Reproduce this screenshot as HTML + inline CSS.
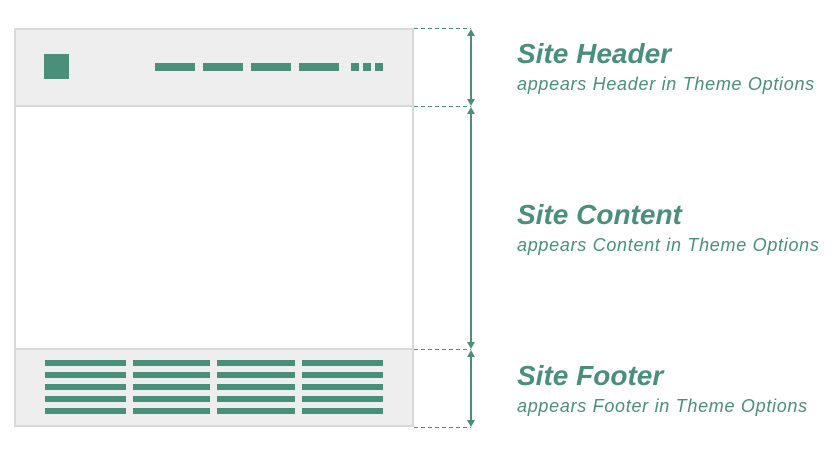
<!DOCTYPE html>
<html><head><meta charset="utf-8"><style>
html,body{margin:0;padding:0;background:#fff;width:840px;height:457px;overflow:hidden;position:relative}
.t{position:absolute;left:517px;color:#4a8f7a;font-family:"Liberation Sans",sans-serif;font-style:italic;white-space:nowrap}
.h{font-size:28px;font-weight:bold}
.s{font-size:18px;letter-spacing:0.7px}
</style></head><body>
<svg width="840" height="457" style="position:absolute;left:0;top:0">
<rect x="15" y="29" width="398" height="397" fill="#fff" stroke="#d9d9d9" stroke-width="2"/>
<rect x="15" y="29" width="398" height="77" fill="#eeeeee" stroke="#d9d9d9" stroke-width="2"/>
<rect x="15" y="349" width="398" height="77" fill="#eeeeee" stroke="#d9d9d9" stroke-width="2"/>
<g fill="#4a8f7a">
<rect x="44" y="54" width="25" height="25"/>
<rect x="155" y="63" width="40" height="8"/>
<rect x="203" y="63" width="40" height="8"/>
<rect x="251" y="63" width="40" height="8"/>
<rect x="299" y="63" width="40" height="8"/>
<rect x="351" y="63" width="8" height="8"/>
<rect x="363" y="63" width="8" height="8"/>
<rect x="375" y="63" width="8" height="8"/>
</g>
<g fill="#4a8f7a">
<g id="r"><rect x="45" y="360" width="81" height="6"/><rect x="133" y="360" width="77" height="6"/><rect x="217" y="360" width="78" height="6"/><rect x="302" y="360" width="81" height="6"/></g>
<use href="#r" y="12"/><use href="#r" y="24"/><use href="#r" y="36"/><use href="#r" y="48"/>
</g>
<g stroke="#4a8f7a" stroke-width="1" stroke-dasharray="4,3">
<line x1="414" y1="28.5" x2="471" y2="28.5"/>
<line x1="414" y1="106.5" x2="471" y2="106.5"/>
<line x1="414" y1="349.5" x2="471" y2="349.5"/>
<line x1="414" y1="427.5" x2="471" y2="427.5"/>
</g>
<g stroke="#4a8f7a" stroke-width="2">
<line x1="471" y1="31" x2="471" y2="104"/>
<line x1="471" y1="109" x2="471" y2="347"/>
<line x1="471" y1="352" x2="471" y2="425"/>
</g>
<g fill="#4a8f7a">
<polygon points="471,29 467,36 475,36"/><polygon points="471,106 467,99 475,99"/>
<polygon points="471,107 467,114 475,114"/><polygon points="471,349 467,342 475,342"/>
<polygon points="471,350 467,357 475,357"/><polygon points="471,427 467,420 475,420"/>
</g>
</svg>
<div class="t h" style="top:38px">Site Header</div>
<div class="t s" style="top:74px">appears Header in Theme Options</div>
<div class="t h" style="top:199px">Site Content</div>
<div class="t s" style="top:235px">appears Content in Theme Options</div>
<div class="t h" style="top:360px">Site Footer</div>
<div class="t s" style="top:396px">appears Footer in Theme Options</div>
</body></html>
